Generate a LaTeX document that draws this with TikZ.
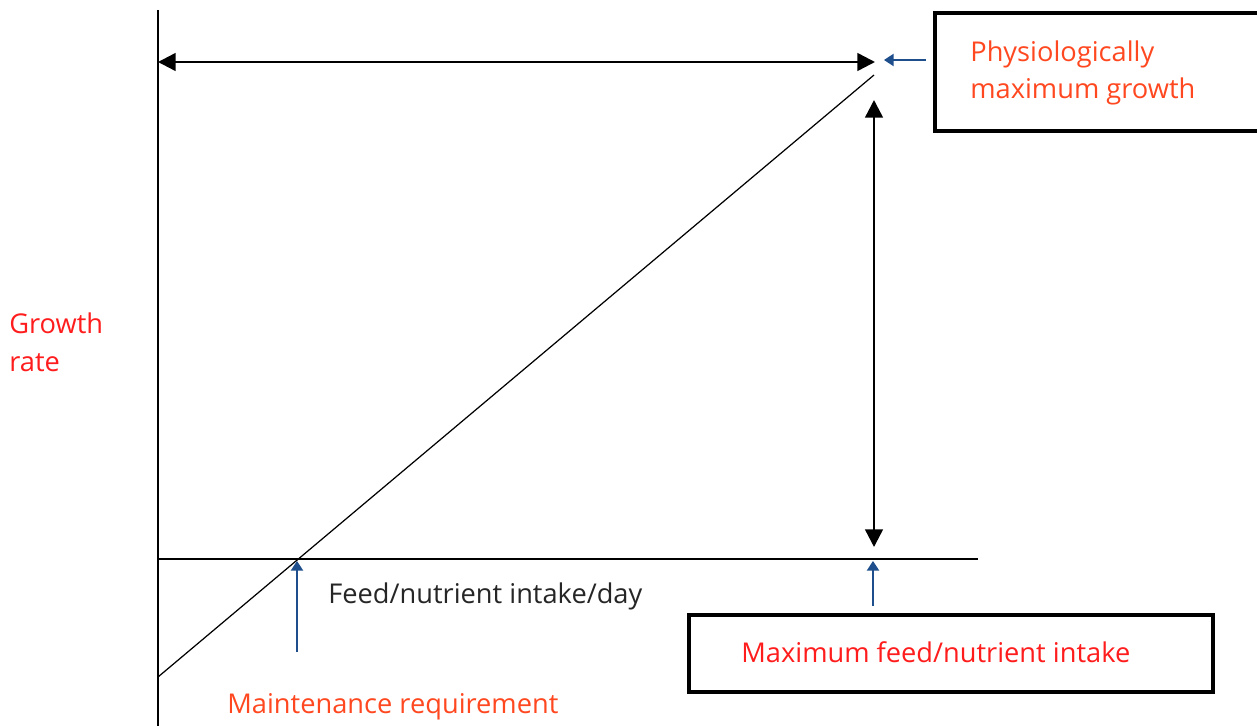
\documentclass[tikz,border=0pt]{standalone}
\usepackage{fontspec}
\setmainfont{Open Sans}
\usetikzlibrary{arrows.meta}
\definecolor{labelred}{RGB}{255,28,28}
\definecolor{labelorange}{RGB}{255,72,32}
\definecolor{pointerblue}{RGB}{31,78,140}
\begin{document}
\begin{tikzpicture}[x=0.02cm,y=-0.02cm,
  lbl/.style={inner sep=0pt,anchor=base west,align=left,
    font=\fontsize{15.5}{21.6}\selectfont},
  axis/.style={line width=0.7pt,black},
  span/.style={line width=1.4pt,{Triangle[length=10pt,width=10pt]}-{Triangle[length=10pt,width=10pt]}},
  pointer/.style={line width=0.8pt,pointerblue,-{Triangle[length=5.5pt,width=7pt]}},
  frame/.style={draw,line width=2pt,inner sep=0pt}]
\useasboundingbox (0,0) rectangle (1257,726);
\clip (0,0) rectangle (1257,726);

% axes and the growth line
\coordinate (ytop) at (158,10);
\coordinate (ybot) at (158,726);
\coordinate (origin) at (158,559);
\coordinate (xend) at (978,559);
\coordinate (lstart) at (158,677);
\coordinate (lend) at (874,75);
\draw[axis] (ytop) -- (ybot);
\draw[axis] (origin) -- (xend);
\draw[line width=0.7pt] (lstart) -- (lend);

% spans
\coordinate (hl) at (158,62);
\coordinate (hr) at (875,62);
\coordinate (vt) at (874,100);
\coordinate (vb) at (874,547);
\draw[span] (hl) -- (hr);
\draw[span] (vt) -- (vb);

% frames
\node[frame,minimum width=340*0.02cm,minimum height=118*0.02cm,anchor=north west] (topframe) at (933,11) {};
\node[frame,minimum width=524*0.02cm,minimum height=77*0.02cm,anchor=north west] (botframe) at (687,613) {};

% labels (base anchor sits on the last line)
\node[lbl,text=labelorange] (phys) at (970,99) {Physiologically\\maximum growth};
\node[lbl,text=labelred] (growth) at (9,371) {Growth\\rate};
\node[lbl,text=black!85] (xlabel) at (328,603) {Feed/nutrient intake/day};
\node[lbl,text=labelorange] (maint) at (227,713) {Maintenance requirement};
\node[lbl,text=labelred] (maxfeed) at (741,662) {Maximum feed/nutrient intake};

% pointers
\coordinate (p1s) at (926,60);
\coordinate (p1e) at (884,60);
\coordinate (p2s) at (297,652);
\coordinate (p2e) at (297,561);
\coordinate (p3s) at (873,606);
\coordinate (p3e) at (873,561);
\draw[pointer] (p1s) -- (p1e);
\draw[pointer] (p2s) -- (p2e);
\draw[pointer] (p3s) -- (p3e);
\end{tikzpicture}
\end{document}
